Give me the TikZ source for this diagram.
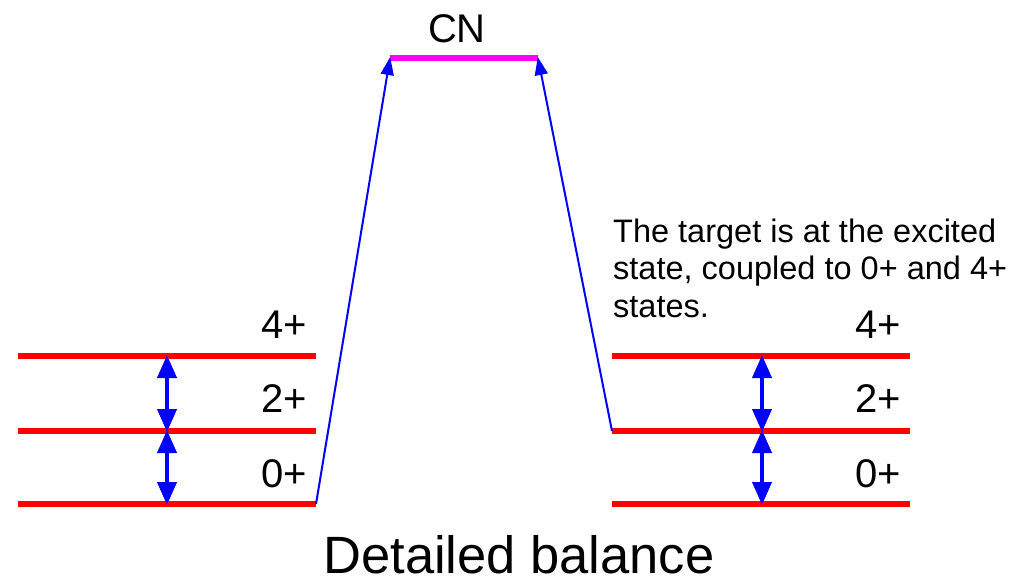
\documentclass[tikz,border=0pt]{standalone}
\usepackage{fontspec}
\setmainfont{Liberation Sans}
\usetikzlibrary{arrows.meta,calc,positioning}
\definecolor{lvred}{RGB}{255,0,0}
\definecolor{cnmag}{RGB}{255,0,255}
\definecolor{trblue}{RGB}{0,0,255}

\begin{document}
\begin{tikzpicture}[
  x=1pt,y=-1pt,
  level/.style={draw=lvred,line width=6pt},
  cnlevel/.style={draw=cnmag,line width=6pt},
  spin/.style={font=\fontsize{40}{48}\selectfont,inner sep=0pt,anchor=base},
  couple/.style={trblue,line width=4pt,
                 {Triangle[length=23pt,width=19pt]}-{Triangle[length=23pt,width=19pt]},
                 shorten <=-1pt,shorten >=-1pt},
  decay/.style={trblue,line width=2pt,-{Triangle[length=18pt,width=13pt]}}
]
  \useasboundingbox (0,0) rectangle (1027,582);

  % compound nucleus
  \coordinate (cnw) at (390,58);
  \coordinate (cne) at (538,58);
  \draw[cnlevel] (cnw) -- (cne);
  \node[spin] (cn) at (457,42) {CN};

  % target levels, left and right
  \foreach \side/\xa/\xb/\xm/\xl in {L/18/316/167/284, R/612/910/762/878} {
    \foreach \j/\y in {0/504,2/431,4/356} {
      \coordinate (\side\j w) at (\xa,\y);
      \coordinate (\side\j e) at (\xb,\y);
      \coordinate (\side\j m) at (\xm,\y);
      \draw[level] (\side\j w) -- (\side\j e);
    }
    \foreach \j/\y in {0/487,2/412,4/338}
      \node[spin] (\side lab\j) at (\xl,\y) {\j+};
    \draw[couple] (\side4m) -- (\side2m);
    \draw[couple] (\side2m) -- (\side0m);
  }

  % transitions to the CN
  \draw[decay,shorten >=-1pt] (L0e) -- (cnw);
  \draw[decay,shorten >=-1pt] (R2w) -- (cne);

  \node[anchor=base west,align=left,inner sep=0pt,
        font=\fontsize{32.5}{37.5}\selectfont] (note) at (613,317)
    {The target is at the excited\\state, coupled to 0+ and 4+\\states.};

  \node[font=\fontsize{52.5}{60}\selectfont,inner sep=0pt,anchor=base] (title) at (519,573)
    {Detailed balance};
\end{tikzpicture}
\end{document}
